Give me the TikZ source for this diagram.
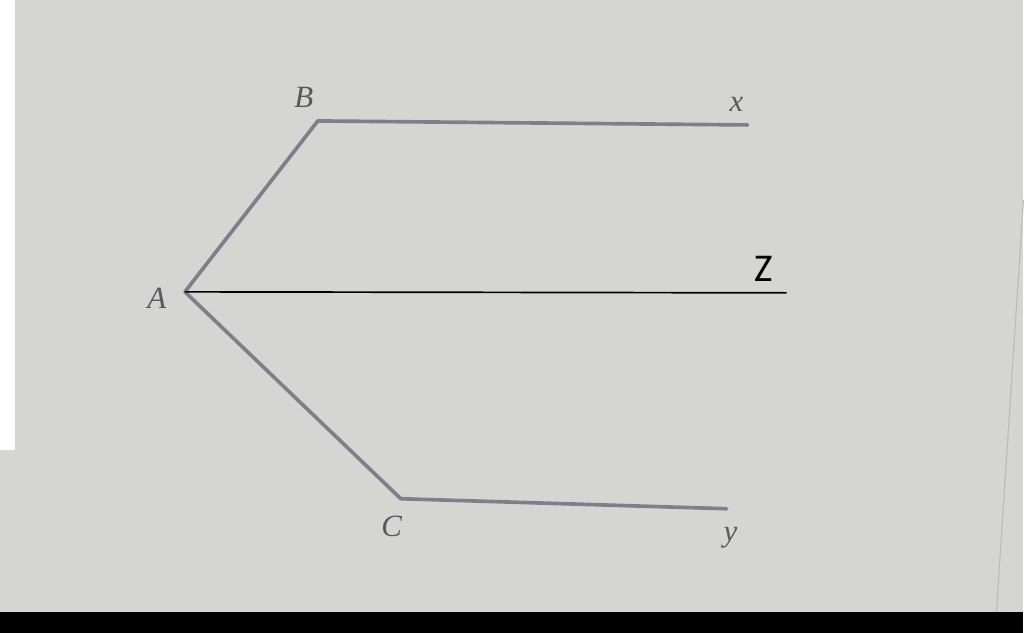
\documentclass[tikz,border=0pt]{standalone}
\usepackage{fontspec}
\newfontfamily\zfont{Carlito}
\newfontfamily\lblfont{Liberation Serif}
\definecolor{paper}{RGB}{213,214,209}
\definecolor{pen}{RGB}{128,126,140}
\definecolor{ink}{RGB}{88,88,94}
\tikzset{
ray/.style={pen, line width=2.6pt, line cap=round, line join=round},
lbl/.style={ink, font=\lblfont\fontsize{22}{22}\selectfont\itshape}
}
\begin{document}
\begin{tikzpicture}[x=0.025cm,y=-0.025cm]
\fill[paper] (0,0) rectangle (1024,633);
\fill[white] (0,0) rectangle (15,450);
\draw[paper!70!gray, line width=0.8pt] (1024,200) -- (997,612);
\fill[black] (0,612) rectangle (1024,633);
\coordinate (A) at (185,292);
\coordinate (B) at (318,121);
\coordinate (C) at (401,499);
\coordinate (x) at (748,125);
\coordinate (y) at (727,509);
\coordinate (z) at (787,293);
\draw[ray] (x) -- (B) -- (A) -- (C) -- (y);
\draw[black, line width=1.2pt] (A) -- (z);
\node[lbl] (lB) at (304,97) {B};
\node[lbl] (lx) at (737,104) {x};
\node[lbl] (lA) at (157,298) {A};
\node[lbl] (lC) at (392,527) {C};
\node[lbl] (ly) at (731,538) {y};
\node[font=\zfont\fontsize{28}{28}\selectfont] (lZ) at (764,269) {Z};
\end{tikzpicture}
\end{document}
